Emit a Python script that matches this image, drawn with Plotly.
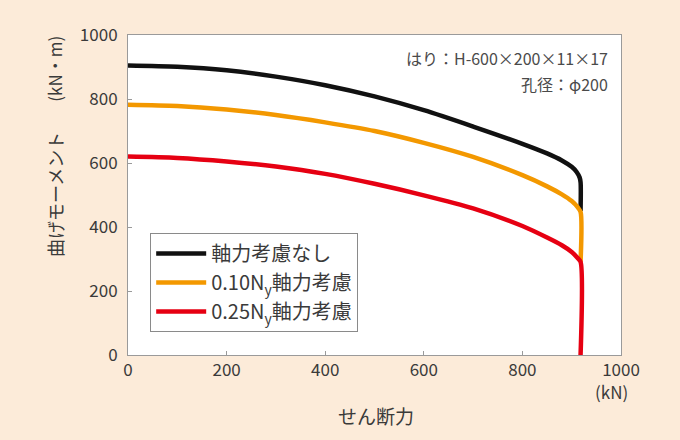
import plotly.graph_objects as go

# Data
shear_black = [0, 100, 200, 300, 400, 500, 600, 700, 800, 850, 880, 900, 910, 916, 918, 918]
moment_black = [905, 901, 890, 870, 843, 808, 765, 714, 660, 630, 608, 588, 572, 555, 540, 450]

shear_orange = [0, 100, 200, 300, 400, 500, 600, 700, 800, 850, 880, 900, 912, 918, 918]
moment_orange = [782, 778, 767, 750, 727, 700, 663, 619, 562, 527, 502, 481, 462, 447, 291]

shear_red = [0, 100, 200, 300, 400, 500, 600, 700, 800, 850, 880, 900, 912, 918, 918]
moment_red = [620, 616, 605, 589, 566, 535, 499, 458, 403, 367, 343, 322, 303, 291, 0]

series_names = ["軸力考慮なし", "0.10N<sub>y</sub>軸力考慮", "0.25N<sub>y</sub>軸力考慮"]
series_colors = ["#111111", "#F39800", "#E60012"]

x_ticks = [0, 200, 400, 600, 800, 1000]
y_ticks = [0, 200, 400, 600, 800, 1000]

FONT = "Noto Sans CJK JP"
TXT = "#3a3a3a"

fig = go.Figure()
for xs, ys, name, color in zip(
    [shear_black, shear_orange, shear_red],
    [moment_black, moment_orange, moment_red],
    series_names, series_colors):
    fig.add_trace(go.Scatter(x=xs, y=ys, mode="lines", name=name,
                             line=dict(color=color, width=4.5, shape="spline", smoothing=0.8)))

axis_common = dict(showline=True, linecolor="#9a9a9a", linewidth=1, mirror=True,
                   ticks="inside", ticklen=4, tickcolor="#9a9a9a", showgrid=False,
                   zeroline=False, tickfont=dict(family=FONT, size=17, color=TXT))

fig.update_xaxes(range=[0, 1000], tickvals=x_ticks, ticklabelstandoff=0, **axis_common)
fig.update_yaxes(range=[0, 1000], tickvals=y_ticks, ticklabelstandoff=6, **axis_common)

fig.update_layout(
    width=680, height=440,
    margin=dict(l=128, r=59, t=35, b=85),
    paper_bgcolor="#FCEBD9", plot_bgcolor="#FFFFFF",
    font=dict(family=FONT, color=TXT),
    showlegend=True,
    legend=dict(x=0.045, y=0.381, xanchor="left", yanchor="top",
                bgcolor="#FFFFFF", bordercolor="#8a8a8a", borderwidth=1,
                font=dict(family=FONT, size=20, color=TXT),
                tracegroupgap=0, itemwidth=50),
)

ann = [
    dict(text="はり：H-600×200×11×17", x=0.978, y=0.928, xanchor="right", yanchor="middle",
         font=dict(size=16, color="#4a4a4a")),
    dict(text="孔径：φ200", x=0.978, y=0.847, xanchor="right", yanchor="middle",
         font=dict(size=16, color="#4a4a4a")),
    dict(text="(kN)", x=0.98, y=-0.113, xanchor="center", yanchor="middle",
         font=dict(size=17, color=TXT)),
    dict(text="せん断力", x=0.503, y=-0.1875, xanchor="center", yanchor="middle",
         font=dict(size=19, color=TXT)),
    dict(text="曲げモーメント", x=-0.148, y=0.5, xanchor="center", yanchor="middle",
         textangle=-90, font=dict(size=18, color=TXT)),
    dict(text="(kN・m)", x=-0.148, y=0.895, xanchor="center", yanchor="middle",
         textangle=-90, font=dict(size=17, color=TXT)),
]
for a in ann:
    fig.add_annotation(xref="paper", yref="paper", showarrow=False, **a)

fig.write_html("out.html")
